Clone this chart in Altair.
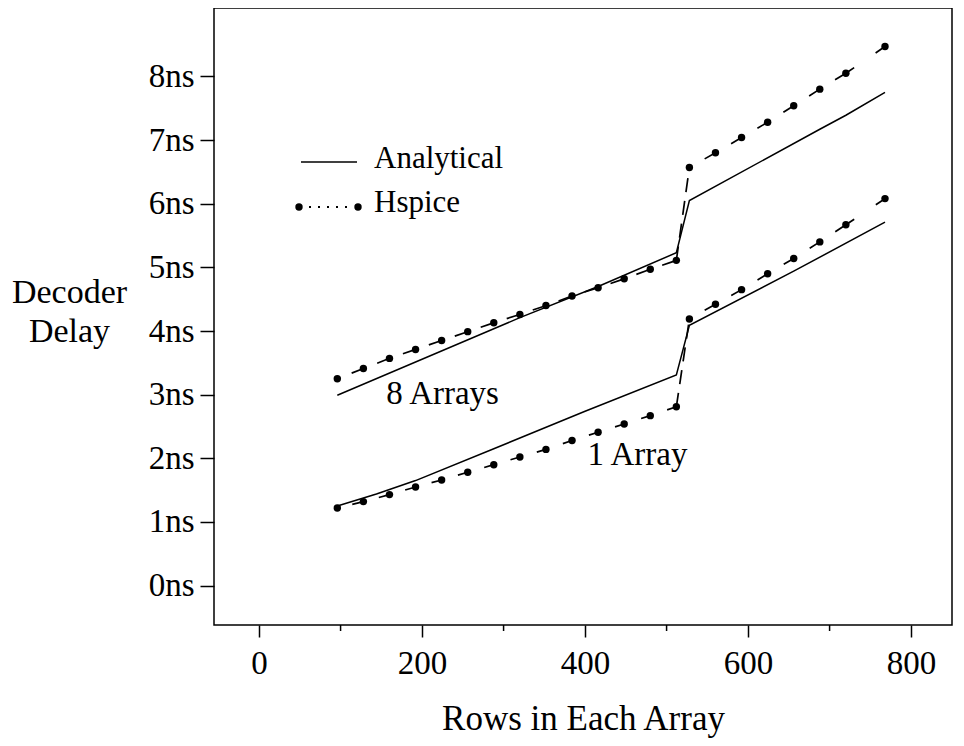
import altair as alt
import pandas as pd

# ---- data ----
rows_left = [96, 128, 160, 192, 224, 256, 288, 320, 352, 384, 416, 448, 480, 512]
rows_right = [528, 560, 592, 624, 656, 688, 720, 768]

hspice_8_left = [3.25, 3.41, 3.57, 3.71, 3.85, 3.99, 4.13, 4.26, 4.40, 4.55, 4.68, 4.82, 4.97, 5.11]
hspice_8_right = [6.57, 6.80, 7.04, 7.28, 7.54, 7.80, 8.05, 8.47]
hspice_1_left = [1.22, 1.32, 1.43, 1.55, 1.66, 1.78, 1.90, 2.02, 2.14, 2.28, 2.41, 2.54, 2.67, 2.81]
hspice_1_right = [4.19, 4.42, 4.65, 4.90, 5.14, 5.40, 5.67, 6.08]

analytic_rows_8 = [96, 320, 416, 512, 528, 688, 720, 768]
analytic_8 = [2.99, 4.21, 4.70, 5.23, 6.05, 7.17, 7.39, 7.75]
analytic_rows_1 = [96, 144, 192, 288, 400, 512, 528, 656, 768]
analytic_1 = [1.25, 1.44, 1.65, 2.15, 2.74, 3.31, 4.09, 4.94, 5.71]

x_major = [0, 200, 400, 600, 800]
x_minor = [100, 300, 500, 700]
y_ticks = [0, 1, 2, 3, 4, 5, 6, 7, 8]

FONT = "Liberation Serif"

# ---- tables ----
ana = pd.DataFrame(
    [{"rows": r, "delay": v, "array": "8 Arrays"} for r, v in zip(analytic_rows_8, analytic_8)]
    + [{"rows": r, "delay": v, "array": "1 Array"} for r, v in zip(analytic_rows_1, analytic_1)]
)

pts = []
segs = []
for name, left, right in [("8 Arrays", hspice_8_left, hspice_8_right),
                          ("1 Array", hspice_1_left, hspice_1_right)]:
    for r, v in zip(rows_left + rows_right, left + right):
        pts.append({"rows": r, "delay": v, "array": name})
    for r, v in zip(rows_left, left):
        segs.append({"rows": r, "delay": v, "array": name, "part": "left"})
    segs.append({"rows": rows_left[-1], "delay": left[-1], "array": name, "part": "jump"})
    segs.append({"rows": rows_right[0], "delay": right[0], "array": name, "part": "jump"})
    for r, v in zip(rows_right[:-1], right[:-1]):
        segs.append({"rows": r, "delay": v, "array": name, "part": "right"})
    for r, v in zip(rows_right[-2:], right[-2:]):
        segs.append({"rows": r, "delay": v, "array": name, "part": "tail"})
pts = pd.DataFrame(pts)
segs = pd.DataFrame(segs)

W, H = 738, 617

xs = alt.Scale(domain=[-55.3, 850.2], nice=False, zero=False)
ys = alt.Scale(domain=[-0.619, 9.075], nice=False, zero=False)

x_enc = alt.X(
    "rows:Q", scale=xs,
    axis=alt.Axis(
        values=x_major, title="Rows in Each Array", grid=False, domain=False,
        tickSize=12, tickWidth=1.5, tickColor="black",
        labelFont=FONT, labelFontSize=33, labelColor="black", labelPadding=10,
        titleFont=FONT, titleFontSize=35, titleFontWeight="normal", titleColor="black",
        titleBaseline="alphabetic", titleY=104,
    ),
)
y_enc = alt.Y(
    "delay:Q", scale=ys,
    axis=alt.Axis(
        values=y_ticks, labelExpr="datum.value + 'ns'", title=["Decoder", "Delay"],
        grid=False, domain=False, tickSize=14, tickWidth=1.5, tickColor="black",
        labelFont=FONT, labelFontSize=33, labelColor="black", labelPadding=6,
        titleFont=FONT, titleFontSize=34, titleFontWeight="normal", titleColor="black",
        titleAngle=0, titleAlign="center", titleBaseline="alphabetic",
        titleX=-145, titleY=294, titleLineHeight=39,
    ),
)

analytic_lines = alt.Chart(ana).mark_line(color="black", strokeWidth=1.5).encode(
    x=x_enc, y=y_enc, detail="array:N", order="rows:Q"
)

def hs_part(part, dash, offset):
    return (
        alt.Chart(segs)
        .transform_filter(alt.datum.part == part)
        .mark_line(color="black", strokeWidth=1.7, strokeDash=dash, strokeDashOffset=offset)
        .encode(x="rows:Q", y="delay:Q", detail="array:N", order="rows:Q")
    )

hs_left = hs_part("left", [12, 15.4], 12)
hs_jump = hs_part("jump", [14, 9], 0)
hs_right = hs_part("right", [13, 17.5], 13)
hs_tail = hs_part("tail", [10, 26], 0)

dots = alt.Chart(pts).mark_circle(color="black", opacity=1, size=55).encode(
    x="rows:Q", y="delay:Q"
)

minor = alt.Chart(pd.DataFrame({"rows": x_minor})).mark_rule(
    color="black", strokeWidth=1.5
).encode(x="rows:Q", y=alt.value(H), y2=alt.value(H + 6))

labels = pd.DataFrame({"rows": [156, 403], "delay": [2.86, 1.89], "txt": ["8 Arrays", "1 Array"]})
annot = alt.Chart(labels).mark_text(
    font=FONT, fontSize=33, align="left", baseline="alphabetic", color="black"
).encode(x="rows:Q", y="delay:Q", text="txt:N")

one = alt.Data(values=[{"k": 1}])
leg_line = alt.Chart(one).mark_rule(color="black", strokeWidth=1.5).encode(
    x=alt.value(87), x2=alt.value(143), y=alt.value(154)
)
leg_dotted = alt.Chart(one).mark_rule(
    color="black", strokeWidth=2, strokeDash=[2, 7], strokeDashOffset=-4
).encode(x=alt.value(91), x2=alt.value(138), y=alt.value(199))
leg_dot1 = alt.Chart(one).mark_circle(color="black", opacity=1, size=55).encode(
    x=alt.value(85), y=alt.value(199)
)
leg_dot2 = alt.Chart(one).mark_circle(color="black", opacity=1, size=55).encode(
    x=alt.value(144), y=alt.value(199)
)
leg_t1 = alt.Chart(one).mark_text(
    text="Analytical", font=FONT, fontSize=31, align="left", baseline="alphabetic", color="black"
).encode(x=alt.value(160), y=alt.value(160))
leg_t2 = alt.Chart(one).mark_text(
    text="Hspice", font=FONT, fontSize=31, align="left", baseline="alphabetic", color="black"
).encode(x=alt.value(160), y=alt.value(204))

chart = alt.layer(
    analytic_lines, hs_left, hs_jump, hs_right, hs_tail, dots, minor, annot,
    leg_line, leg_dotted, leg_dot1, leg_dot2, leg_t1, leg_t2,
).properties(
    width=W, height=H,
    autosize=alt.AutoSizeParams(type="none"),
    padding={"left": 206, "top": 0, "right": 4, "bottom": 114},
    background="white",
).configure_view(stroke="black", strokeWidth=1.5)

chart.save("out.html", embed_options={"renderer": "svg", "actions": False})
